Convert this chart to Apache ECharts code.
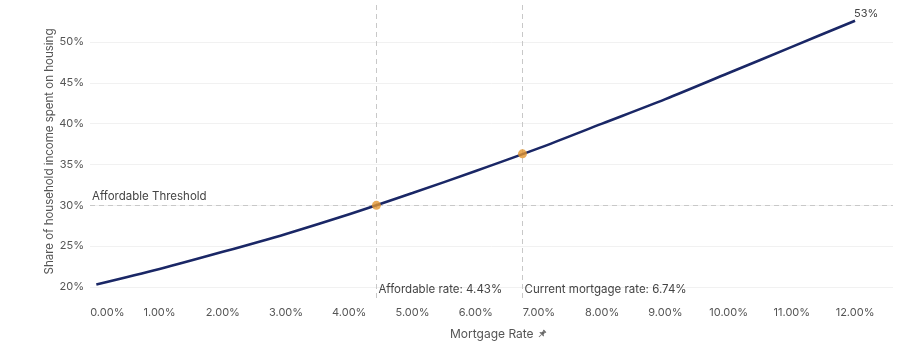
<!DOCTYPE html>
<html>
<head>
<meta charset="utf-8">
<script src="https://cdn.jsdelivr.net/npm/echarts@6/dist/echarts.min.js"></script>
<style>
  html, body { margin: 0; padding: 0; background: #ffffff; }
  #chart { width: 910px; height: 358px; }
</style>
</head>
<body>
<div id="chart"></div>
<script>
// ---- data ----
const rates = [0, 1, 2, 3, 4, 5, 6, 7, 8, 9, 10, 11, 12];
const shares = [20.3, 22.2, 24.3, 26.5, 28.9, 31.5, 34.2, 37.0, 40.0, 43.0, 46.2, 49.4, 52.6];
const markerRates = [4.43, 6.74];
const markerShares = [30.0, 36.3];
const markerLabels = ['Affordable rate: 4.43%', 'Current mortgage rate: 6.74%'];
const threshold = 30;
const thresholdLabel = 'Affordable Threshold';
const yTicks = [20, 25, 30, 35, 40, 45, 50];
const xRange = [-0.1, 12.6];
const yRange = [18.65, 54.53];

const FONT = 'Inter, "Noto Sans", sans-serif';
const pinSvg = "<svg xmlns='http://www.w3.org/2000/svg' width='16' height='16' viewBox='0 0 16 16'><g transform='rotate(45 8 8)' fill='%23666'><rect x='5' y='1' width='6' height='2' rx='0.6'/><path d='M6.2 3h3.6l1 5h-5.6z'/><rect x='3.5' y='7.6' width='9' height='1.6' rx='0.5'/><rect x='7.4' y='9' width='1.2' height='6'/></g></svg>";
const pinUri = 'data:image/svg+xml;utf8,' + pinSvg;

const chart = echarts.init(document.getElementById('chart'), null, { renderer: 'canvas' });

const option = {
  animation: false,
  backgroundColor: '#ffffff',
  textStyle: { fontFamily: FONT },
  grid: { left: 90, right: 17, top: 5, bottom: 60, containLabel: false, outerBoundsMode: 'none' },
  xAxis: {
    type: 'value',
    min: xRange[0],
    max: xRange[1],
    splitNumber: 13,
    name: '{sp|}Mortgage Rate {pin|}',
    nameLocation: 'middle',
    nameGap: 30,
    nameTextStyle: {
      color: '#555',
      fontSize: 12,
      fontFamily: FONT,
      rich: {
        sp: { width: 14, height: 10 },
        pin: { backgroundColor: { image: pinUri }, width: 10, height: 10 }
      }
    },
    axisLine: { show: false },
    axisTick: { show: false },
    splitLine: { show: false },
    axisLabel: {
      showMinLabel: false,
      showMaxLabel: false,
      margin: 9,
      color: '#555',
      fontSize: 11,
      fontFamily: FONT,
      formatter: (v) => {
        if (Math.abs(v) < 1e-9) return '{first|0.00%}';
        return v.toFixed(2) + '%';
      },
      rich: {
        first: { padding: [0, 0, 0, 22], color: '#555', fontSize: 11, fontFamily: FONT }
      }
    }
  },
  yAxis: {
    type: 'value',
    min: yRange[0],
    max: yRange[1],
    splitNumber: 7,
    name: 'Share of household income spent on housing',
    nameLocation: 'middle',
    nameGap: 34,
    nameMoveOverlap: false,
    nameTextStyle: { color: '#555', fontSize: 11.5, fontFamily: FONT },
    axisLine: { show: false },
    axisTick: { show: false },
    splitLine: { show: false },
    axisLabel: {
      showMinLabel: false,
      showMaxLabel: false,
      margin: 6,
      color: '#555',
      fontSize: 11,
      fontFamily: FONT,
      formatter: (v) => (yTicks.indexOf(Math.round(v * 1000) / 1000) >= 0 ? v + '%' : '')
    }
  },
  series: [
    {
      name: 'grid',
      type: 'line',
      data: [],
      silent: true,
      z: 0,
      markLine: {
        silent: true,
        symbol: 'none',
        animation: false,
        z: 0,
        label: { show: false },
        lineStyle: { color: '#f1f1f1', width: 1, type: 'solid' },
        data: yTicks.map((t) => ({ yAxis: t }))
      }
    },
    {
      name: 'share',
      type: 'line',
      data: rates.map((r, i) => [r, shares[i]]),
      smooth: 0.3,
      symbol: 'none',
      lineStyle: { color: '#1a2766', width: 2.6 },
      z: 3,
      endLabel: {
        show: true,
        formatter: (p) => Math.round(p.value[1]) + '%',
        distance: 0,
        offset: [-1, -7],
        color: '#444',
        fontSize: 11,
        fontFamily: FONT
      },
      markLine: {
        silent: true,
        symbol: 'none',
        animation: false,
        z: 1,
        lineStyle: { color: '#c8c8c8', width: 1, type: [5, 4] },
        data: [
          {
            yAxis: threshold,
            label: {
              show: true,
              position: 'insideStartTop',
              formatter: thresholdLabel,
              color: '#444',
              fontSize: 11.5,
              fontFamily: FONT,
              distance: [2, 3]
            }
          }
        ].concat(markerRates.map((r) => ({ xAxis: r, label: { show: false } })))
      },
      markPoint: {
        silent: true,
        symbol: 'circle',
        symbolSize: 0,
        animation: false,
        data: markerRates.map((r, i) => ({
          coord: [r, yRange[0]],
          label: {
            show: true,
            position: 'right',
            distance: 2,
            offset: [0, -8],
            formatter: markerLabels[i],
            color: '#444',
            fontSize: 11.5,
            fontFamily: FONT
          }
        }))
      }
    },
    {
      name: 'markers',
      type: 'scatter',
      data: markerRates.map((r, i) => [r, markerShares[i]]),
      symbol: 'circle',
      symbolSize: 9,
      itemStyle: { color: '#e3962f' },
      z: 5
    }
  ]
};

chart.setOption(option);
</script>
</body>
</html>
